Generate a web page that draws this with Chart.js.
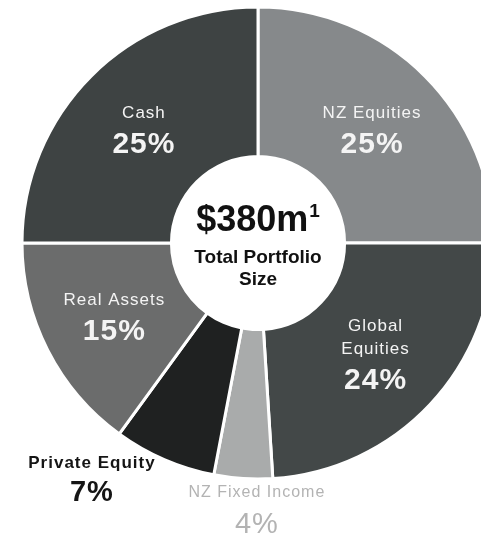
<!DOCTYPE html>
<html>
<head>
<meta charset="utf-8">
<title>Total Portfolio</title>
<script src="https://cdn.jsdelivr.net/npm/chart.js@4.4.1/dist/chart.umd.min.js"></script>
<style>
    html, body { margin: 0; padding: 0; background: #ffffff; overflow: hidden; }
    #wrap { width: 500px; height: 538px; }
</style>
</head>
<body>
<div id="wrap"><canvas id="portfolioChart" width="500" height="538"></canvas></div>
<script>
// Asset allocation (% of total portfolio)
const categories = ['NZ Equities', 'Global Equities', 'NZ Fixed Income', 'Private Equity', 'Real Assets', 'Cash'];
const shares = [25, 24, 4, 7, 15, 25];
const labelLines = [['NZ Equities'], ['Global', 'Equities'], ['NZ Fixed Income'], ['Private Equity'], ['Real Assets'], ['Cash']];
const totalValue = '$380m';
const totalNote = '1';
const totalCaption = ['Total Portfolio', 'Size'];

const sliceColors = ['#86898b', '#434848', '#a9abab', '#1f2121', '#6b6c6c', '#3e4343'];

const FONT = '"Liberation Sans", Arial, sans-serif';

// per-slice label styling; outside labels get a shift from the slice centre
const labelStyle = [
    { color: '#f4f4f4', nameFont: '17px', pctFont: 'bold 30px', shift: [0, 0] },
    { color: '#f4f4f4', nameFont: '17px', pctFont: 'bold 30px', shift: [0, 0] },
    { color: '#b3b3b3', nameFont: '16px', pctFont: '29px', shift: [9, 105], pctGap: 32 },
    { color: '#151515', nameFont: 'bold 17px', pctFont: 'bold 29px', shift: [-102, 87], pctGap: 30 },
    { color: '#f4f4f4', nameFont: '17px', pctFont: 'bold 30px', shift: [0, 0] },
    { color: '#f4f4f4', nameFont: '17px', pctFont: 'bold 30px', shift: [0, 0] }
];

const sliceLabels = {
    id: 'sliceLabels',
    afterDatasetsDraw(chart) {
        const ctx = chart.ctx;
        const meta = chart.getDatasetMeta(0);
        ctx.save();
        ctx.textAlign = 'center';
        ctx.textBaseline = 'middle';
        ctx.letterSpacing = '1px';
        meta.data.forEach((arc, i) => {
            const st = labelStyle[i];
            const p = arc.tooltipPosition();
            const x = p.x + st.shift[0];
            const names = labelLines[i];
            const lineGap = 23;
            const pctGap = st.pctGap || 31;
            const total = (names.length - 1) * lineGap + pctGap;
            let y = p.y + st.shift[1] - total / 2;
            ctx.fillStyle = st.color;
            ctx.font = st.nameFont + ' ' + FONT;
            names.forEach((line, k) => {
                ctx.fillText(line, x, y + k * lineGap);
            });
            y += (names.length - 1) * lineGap + pctGap;
            ctx.font = st.pctFont + ' ' + FONT;
            ctx.fillText(shares[i] + '%', x, y);
        });

        // centre caption with footnote marker
        const c = meta.data[0];
        ctx.fillStyle = '#111111';
        ctx.letterSpacing = '0px';
        ctx.font = 'bold 36px ' + FONT;
        const mainW = ctx.measureText(totalValue).width;
        ctx.font = 'bold 19px ' + FONT;
        const noteW = ctx.measureText(totalNote).width;
        const left = c.x - (mainW + noteW + 1) / 2;
        ctx.textAlign = 'left';
        ctx.font = 'bold 36px ' + FONT;
        ctx.fillText(totalValue, left, c.y - 22);
        ctx.font = 'bold 19px ' + FONT;
        ctx.fillText(totalNote, left + mainW + 1, c.y - 31);
        ctx.textAlign = 'center';
        ctx.font = 'bold 19px ' + FONT;
        ctx.fillText(totalCaption[0], c.x, c.y + 15);
        ctx.fillText(totalCaption[1], c.x, c.y + 37);
        ctx.restore();
    }
};

const portfolioCtx = document.getElementById('portfolioChart').getContext('2d');
const portfolioChart = new Chart(portfolioCtx, {
    type: 'doughnut',
    data: {
        labels: categories,
        datasets: [{
            data: shares,
            backgroundColor: sliceColors,
            borderColor: '#ffffff',
            borderWidth: 3,
            radius: 236,
            cutout: 86
        }]
    },
    options: {
        responsive: false,
        animation: false,
        layout: { padding: { left: 22, top: 7, right: 6, bottom: 59 } },
        plugins: {
            legend: { display: false },
            tooltip: { enabled: false }
        }
    },
    plugins: [sliceLabels]
});
</script>
</body>
</html>
